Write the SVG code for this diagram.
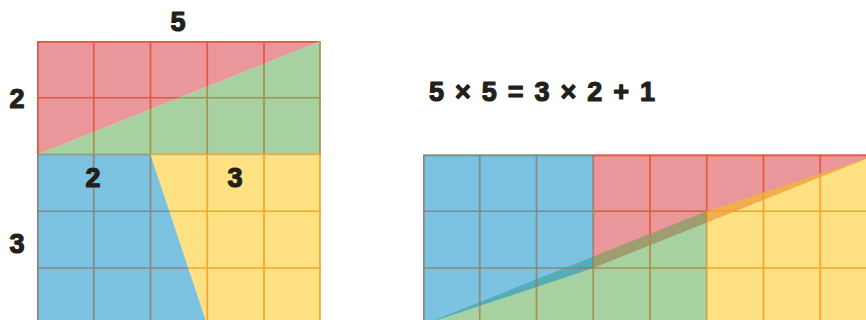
<svg xmlns="http://www.w3.org/2000/svg" width="866" height="320" viewBox="0 0 866 320">
<style>
.lbl{font-family:"Liberation Sans",Arial,sans-serif;font-weight:bold;font-size:27px;fill:#231f1a;stroke:#231f1a;stroke-width:1.2;stroke-linejoin:round;text-anchor:middle}
.red .f{fill:#d32f35;fill-opacity:0.5}
.red path{stroke:#e5573c}
.green .f{fill:#51a345;fill-opacity:0.5}
.green path{stroke:#a8924a}
.blue .f{fill:#1190c8;fill-opacity:0.55}
.blue path{stroke:#8a8680}
.yellow .f{fill:#fdc307;fill-opacity:0.5}
.yellow path{stroke:#f5a530}
path.g{fill:none;stroke-width:1.7}
path.e{fill:none;stroke-width:3.4}
</style>
<defs>
<clipPath id="cLR"><polygon points="37,41 320.75,41 37,154.5"/></clipPath>
<clipPath id="cLG"><polygon points="37,154.5 320.75,41 320.75,154.5"/></clipPath>
<clipPath id="cLB"><polygon points="37,154.5 150.5,154.5 207.25,324.75 37,324.75"/></clipPath>
<clipPath id="cLY"><polygon points="150.5,154.5 320.75,154.5 320.75,324.75 207.25,324.75"/></clipPath>
<clipPath id="cRB"><polygon points="423,154.5 593.25,154.5 593.25,268 423,324.75"/></clipPath>
<clipPath id="cRR"><polygon points="593.25,154.5 877,154.5 593.25,268"/></clipPath>
<clipPath id="cRG"><polygon points="423,324.75 706.75,211.25 706.75,324.75"/></clipPath>
<clipPath id="cRY"><polygon points="706.75,211.25 877,154.5 877,324.75 706.75,324.75"/></clipPath>
</defs>

<g id="left-square">
<g id="left-red" class="red">
<polygon class="f" points="37,41 320.75,41 37,154.5"/>
<g clip-path="url(#cLR)"><path class="g" d="M93.75,41V330M150.5,41V330M207.25,41V330M264,41V330M37,97.75H320.75M37,154.5H320.75"/><path class="e" d="M37,41H320.75M37,41V330"/></g>
</g>
<g id="left-green" class="green">
<polygon class="f" points="37,154.5 320.75,41 320.75,154.5"/>
<g clip-path="url(#cLG)"><path class="g" d="M93.75,41V330M150.5,41V330M207.25,41V330M264,41V330M37,97.75H320.75M37,154.5H320.75"/><path class="e" d="M320.75,41V330"/></g>
</g>
<g id="left-blue" class="blue">
<polygon class="f" points="37,154.5 150.5,154.5 207.25,324.75 37,324.75"/>
<g clip-path="url(#cLB)"><path class="g" d="M93.75,41V330M150.5,41V330M207.25,41V330M37,154.5H320.75M37,211.25H320.75M37,268H320.75M37,324.75H320.75"/><path class="e" d="M37,41V330"/></g>
</g>
<g id="left-yellow" class="yellow">
<polygon class="f" points="150.5,154.5 320.75,154.5 320.75,324.75 207.25,324.75"/>
<g clip-path="url(#cLY)"><path class="g" d="M207.25,41V330M264,41V330M37,154.5H320.75M37,211.25H320.75M37,268H320.75M37,324.75H320.75"/><path class="e" d="M320.75,41V330"/></g>
</g>
</g>

<g id="right-rectangle">
<g id="right-red" class="red">
<polygon class="f" points="593.25,154.5 877,154.5 593.25,268"/>
<g clip-path="url(#cRR)"><path class="g" d="M593.25,154.5V330M650,154.5V330M706.75,154.5V330M763.5,154.5V330M820.25,154.5V330M423,211.25H877"/><path class="e" d="M423,154.5H877"/></g>
</g>
<g id="right-green" class="green">
<polygon class="f" points="423,324.75 706.75,211.25 706.75,324.75"/>
<g clip-path="url(#cRG)"><path class="g" d="M479.75,154.5V330M536.5,154.5V330M593.25,154.5V330M650,154.5V330M706.75,154.5V330M423,211.25H877M423,268H877"/></g>
</g>
<g id="right-blue" class="blue">
<polygon class="f" points="423,154.5 593.25,154.5 593.25,268 423,324.75"/>
<g clip-path="url(#cRB)"><path class="g" d="M479.75,154.5V330M536.5,154.5V330M593.25,154.5V330M423,211.25H877M423,268H877"/><path class="e" d="M423,154.5H877M423,154.5V330"/></g>
</g>
<g id="right-yellow" class="yellow">
<polygon class="f" points="706.75,211.25 877,154.5 877,324.75 706.75,324.75"/>
<g clip-path="url(#cRY)"><path class="g" d="M706.75,154.5V330M763.5,154.5V330M820.25,154.5V330M423,211.25H877M423,268H877"/><path class="e" d="M423,154.5H877"/></g>
</g>
</g>

<g id="labels">
<text class="lbl" x="178" y="31">5</text>
<text class="lbl" x="17" y="108">2</text>
<text class="lbl" x="17" y="253">3</text>
<text class="lbl" x="93" y="187">2</text>
<text class="lbl" x="235" y="187">3</text>
<text class="lbl" x="542" y="101" textLength="226" lengthAdjust="spacing">5 × 5 = 3 × 2 + 1</text>
</g>
</svg>
